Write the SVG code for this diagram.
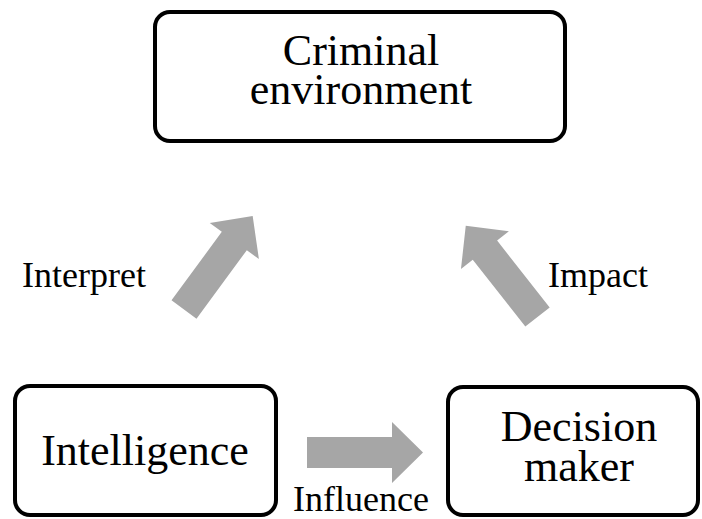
<svg xmlns="http://www.w3.org/2000/svg" xmlns:xlink="http://www.w3.org/1999/xlink" width="702" height="519" viewBox="0 0 702 519">
  <style>
    .box { fill: #ffffff; stroke: #000000; stroke-width: 4; }
    .node-text { font-family: "Liberation Serif", "Times New Roman", serif; font-size: 44px; fill: #000000; text-anchor: middle; }
    .edge-text { font-family: "Liberation Serif", "Times New Roman", serif; font-size: 36px; fill: #000000; }
    .block-arrow { fill: #a6a6a6; }
  </style>
  <defs>
    <!-- block arrow pointing along +x, base centred on the origin -->
    <path id="blockArrow" class="block-arrow" d="M0,-15.5 H85 V-30.5 L116,0 L85,30.5 V15.5 H0 Z"/>
  </defs>

  <g id="node-criminal-environment">
    <rect class="box" x="155" y="12" width="410" height="129" rx="15"/>
    <text class="node-text" x="361" y="65">Criminal</text>
    <text class="node-text" x="361" y="104">environment</text>
  </g>

  <g id="node-intelligence">
    <rect class="box" x="15" y="386" width="261" height="129" rx="15"/>
    <text class="node-text" x="145" y="465" font-size="45">Intelligence</text>
  </g>

  <g id="node-decision-maker">
    <rect class="box" x="448" y="387" width="250" height="128" rx="15"/>
    <text class="node-text" x="579" y="441">Decision</text>
    <text class="node-text" x="579" y="481">maker</text>
  </g>

  <g id="connectors">
    <use xlink:href="#blockArrow" transform="translate(184,309.5) rotate(-53.7)"/>
    <use xlink:href="#blockArrow" transform="translate(537.5,317) rotate(-128.2)"/>
    <use xlink:href="#blockArrow" transform="translate(307,452.5)"/>
    <text class="edge-text" x="22" y="287">Interpret</text>
    <text class="edge-text" x="548" y="287">Impact</text>
    <text class="edge-text" x="293" y="511" font-size="35">Influence</text>
  </g>
</svg>
